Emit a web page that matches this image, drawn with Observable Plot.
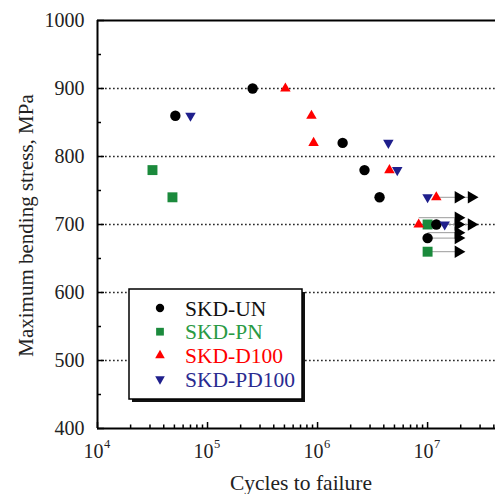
<!DOCTYPE html>
<html><head><meta charset="utf-8">
<script src="https://cdn.jsdelivr.net/npm/d3@7"></script>
<script src="https://cdn.jsdelivr.net/npm/@observablehq/plot@0.6"></script>
<style>
html,body{margin:0;padding:0;background:#fff;overflow:hidden;}
#chart{position:relative;width:495px;height:494px;overflow:hidden;}
#chart svg{max-width:none !important;}
</style></head><body><div id="chart"></div>
<script>
// ---- data ----
const seriesNames = ["SKD-UN", "SKD-PN", "SKD-D100", "SKD-PD100"];
const seriesColors = ["#000000", "#1b8a3c", "#ff0000", "#1f1f8c"];
const legendTextColors = ["#111111", "#2a9a44", "#ff0000", "#2a2a90"];

const unX = [5.1e4, 2.57e5, 1.69e6, 2.67e6, 3.66e6, 1.2e7, 1.0e7];
const unY = [860, 900, 820, 780, 740, 700, 680];
const pnX = [3.16e4, 4.8e4, 1.0e7, 1.0e7];
const pnY = [780, 740, 700, 660];
const d100X = [5.1e5, 8.8e5, 9.2e5, 4.5e6, 1.2e7, 8.3e6];
const d100Y = [900, 860, 820, 780, 740, 700];
const pd100X = [7.0e4, 4.4e6, 5.3e6, 1.0e7, 1.43e7];
const pd100Y = [860, 820, 780, 740, 700];

// run-out (no failure) indicators
const runFromX = [1.2e7, 8.3e6, 1.0e7, 1.0e7, 1.0e7, 1.0e7];
const runToX   = [2.5e7, 1.9e7, 2.5e7, 1.9e7, 1.9e7, 1.9e7];
const runY     = [740, 710, 700, 688, 680, 660];
const arrowX = [1.9e7, 2.5e7, 1.9e7, 1.9e7, 2.5e7, 1.9e7, 1.9e7, 1.9e7];
const arrowY = [740, 740, 710, 700, 700, 688, 680, 660];

const xMajor = [1e4, 1e5, 1e6, 1e7];
const xMinor = [];
for (const d of [1e4, 1e5, 1e6, 1e7]) for (let k = 2; k <= 9; k++) if (k * d < 5e7) xMinor.push(k * d);
const yMajor = [400, 500, 600, 700, 800, 900, 1000];
const yMinor = [450, 550, 650, 750, 850, 950];
const yGrid = [500, 600, 700, 800, 900];

const xTitle = "Cycles to failure";
const yTitle = "Maximum bending stress, MPa";

// ---- build ----
const W = 504, H = 494, ML = 97, MR = 0, MT = 20, MB = 66;
const FW = W - ML - MR, FH = H - MT - MB;
const mk = (xs, ys) => xs.map((x, i) => ({x, y: ys[i]}));
const un = mk(unX, unY), pn = mk(pnX, pnY), d100 = mk(d100X, d100Y), pd100 = mk(pd100X, pd100Y);
const leaders = runY.map((y, i) => ({x1: runFromX[i], x2: runToX[i], y}));
const arrows = mk(arrowX, arrowY);

const font = "'Liberation Serif', 'Times New Roman', serif";

const plot = Plot.plot({
  width: W, height: H,
  marginLeft: ML, marginRight: MR, marginTop: MT, marginBottom: MB,
  style: {fontFamily: font, fontSize: "20px", background: "#fff", overflow: "visible", maxWidth: "none"},
  x: {type: "log", domain: [1e4, 5e7], axis: null},
  y: {domain: [400, 1000], axis: null},
  marks: [
    Plot.ruleY(yGrid, {y: d => d, stroke: "#2a2a2a", strokeWidth: 1.7, strokeDasharray: "1.7,2.3"}),
    Plot.link(leaders, {x1: "x1", x2: "x2", y1: "y", y2: "y", stroke: "#9a9a9a", strokeWidth: 1}),
    Plot.dot(arrows, {x: "x", y: "y", symbol: "triangle", rotate: 90, r: 4.6, fill: "#000", stroke: "none"}),
    Plot.dot(pn, {x: "x", y: "y", symbol: "square", r: 5.6, fill: seriesColors[1], stroke: "none"}),
    Plot.dot(d100, {x: "x", y: "y", symbol: "triangle", r: 3.9, fill: seriesColors[2], stroke: "none"}),
    Plot.dot(un, {x: "x", y: "y", symbol: "circle", r: 5.2, fill: seriesColors[0], stroke: "none"}),
    Plot.dot(pd100, {x: "x", y: "y", symbol: "triangle", rotate: 180, r: 3.9, fill: seriesColors[3], stroke: "none"}),
    // frame (left, bottom, top)
    Plot.ruleX([1e4], {x: d => d, stroke: "#000", strokeWidth: 2}),
    Plot.ruleY([400, 1000], {y: d => d, stroke: "#000", strokeWidth: 2}),
    // inward ticks
    Plot.tickY(yMajor, {y: d => d, insetRight: FW - 7, stroke: "#000", strokeWidth: 1.5}),
    Plot.tickY(yMinor, {y: d => d, insetRight: FW - 4, stroke: "#000", strokeWidth: 1.5}),
    Plot.tickX(xMajor, {x: d => d, insetTop: FH - 6, stroke: "#000", strokeWidth: 1.5}),
    Plot.tickX(xMinor, {x: d => d, insetTop: FH - 3.5, stroke: "#000", strokeWidth: 1.5}),
    // tick labels
    Plot.text(yMajor, {y: d => d, frameAnchor: "left", textAnchor: "end", lineAnchor: "middle", dx: -13, text: d => String(d), fill: "#222", fontSize: 20}),
    Plot.text(xMajor, {x: d => d, frameAnchor: "bottom", textAnchor: "middle", lineAnchor: "middle", dx: -4, dy: 23, text: () => "10", fill: "#222", fontSize: 20}),
    Plot.text(xMajor, {x: d => d, frameAnchor: "bottom", textAnchor: "start", lineAnchor: "middle", dx: 6.5, dy: 15, text: d => String(Math.round(Math.log10(d))), fill: "#222", fontSize: 12.5}),
    // axis titles
    Plot.text([xTitle], {frameAnchor: "bottom", textAnchor: "middle", lineAnchor: "middle", dy: 55, text: d => d, fill: "#222", fontSize: 21.5}),
    Plot.text([yTitle], {frameAnchor: "left", textAnchor: "middle", lineAnchor: "middle", dx: -71, dy: 1, rotate: -90, text: d => d, fill: "#222", fontSize: 21})
  ]
});
plot.style.maxWidth = "none";
document.getElementById("chart").appendChild(plot);

// ---- legend (drawn inside the svg) ----
const svg = d3.select(plot);
const lg = svg.append("g");
const bx = 129, by = 289, bw = 173, bh = 110;
lg.append("rect").attr("x", bx + 3).attr("y", by + 3).attr("width", bw).attr("height", bh).attr("fill", "#111");
lg.append("rect").attr("x", bx).attr("y", by).attr("width", bw).attr("height", bh).attr("fill", "#fff").attr("stroke", "#000").attr("stroke-width", 1.5);
const symTypes = [d3.symbolCircle, d3.symbolSquare, d3.symbolTriangle, d3.symbolTriangle];
const symSizes = [55, 60, 40, 40];
seriesNames.forEach((name, i) => {
  const cy = 308 + i * 23.7;
  lg.append("path")
    .attr("d", d3.symbol(symTypes[i], symSizes[i])())
    .attr("transform", `translate(160,${cy})${i === 3 ? " rotate(180)" : ""}`)
    .attr("fill", seriesColors[i]);
  lg.append("text").attr("x", 185).attr("y", cy).attr("dy", "0.35em")
    .attr("text-anchor", "start")
    .attr("fill", legendTextColors[i]).attr("font-family", font).attr("font-size", 21.5)
    .text(name);
});
</script>
</body></html>
